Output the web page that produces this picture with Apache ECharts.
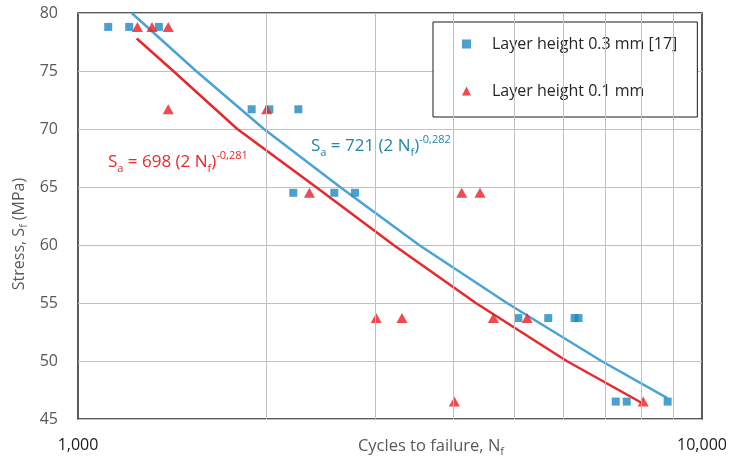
<!DOCTYPE html>
<html><head><meta charset="utf-8">
<script src="https://cdn.jsdelivr.net/npm/echarts@6/dist/echarts.min.js"></script>
<style>html,body{margin:0;padding:0;background:#fff}#c{width:738px;height:462px}</style>
</head><body><div id="c"></div>
<script>
// ---- data ----
const blueName = 'Layer height 0.3 mm [17]';
const redName = 'Layer height 0.1 mm';
const blueCycles = [1118, 1208, 1348, 1898, 2026, 2255, 2213, 2575, 2779, 5077, 5670, 6250, 6340, 7274, 7575, 8810];
const blueStress = [78.8, 78.8, 78.8, 71.7, 71.7, 71.7, 64.5, 64.5, 64.5, 53.7, 53.7, 53.7, 53.7, 46.5, 46.5, 46.5];
const redCycles = [1245, 1314, 1395, 1395, 2006, 2349, 4120, 4408, 3005, 3305, 4630, 5245, 4010, 8050];
const redStress = [78.8, 78.8, 78.8, 71.7, 71.7, 64.5, 64.5, 64.5, 53.7, 53.7, 53.7, 53.7, 46.5, 46.5];
// fitted curves as traced on the picture
const blueFitCycles = [1219, 1546, 1986, 2630, 3520, 4868, 6900, 8800];
const blueFitStress = [80, 75, 70, 65, 60, 55, 50, 46.8];
const redFitCycles = [1242, 1421, 1800, 2406, 3204, 4340, 6070, 8000];
const redFitStress = [77.8, 75, 70, 65, 60, 55, 50, 46.4];
// tick values
const xMin = 1000, xMax = 10000;
const gridCycles = [2000, 3000, 4000, 5000, 6000, 7000, 8000, 9000];
const yMin = 45, yMax = 80, yStep = 5;

const FONT = '"Open Sans", "Noto Sans", sans-serif';
const BLUE = '#1f88c2', BLUE_LINE = '#4aa3d2', BLUE_TXT = '#2583aa';
const RED = '#ee1c24', RED_LINE = '#e8282c';

const zip = (a, b) => a.map((v, i) => [v, b[i]]);

const chart = echarts.init(document.getElementById('c'));
const richEq = (fill) => ({
  m: {fontSize: 17, fontFamily: FONT, fill: fill, lineHeight: 24},
  s: {fontSize: 11, fontFamily: FONT, fill: fill, lineHeight: 14, verticalAlign: 'bottom'},
  p: {fontSize: 11, fontFamily: FONT, fill: fill, lineHeight: 14, verticalAlign: 'top'}
});
const richAx = {
  m: {fontSize: 16.5, fontFamily: FONT, fill: '#595959', lineHeight: 22},
  s: {fontSize: 11, fontFamily: FONT, fill: '#595959', lineHeight: 13, verticalAlign: 'bottom'}
};
const richAy = {
  m: {fontSize: 16, fontFamily: FONT, fill: '#595959', lineHeight: 22},
  s: {fontSize: 10.5, fontFamily: FONT, fill: '#595959', lineHeight: 13, verticalAlign: 'bottom'}
};

chart.setOption({
  animation: false,
  grid: {left: 78, right: 36, top: 13, bottom: 43, show: true, borderColor: '#262626', borderWidth: 1.5},
  xAxis: {
    type: 'log', logBase: 10, min: xMin, max: xMax,
    axisLine: {show: false}, axisTick: {show: false}, splitLine: {show: false},
    axisLabel: {formatter: v => Number(v).toLocaleString('en-US'), fontSize: 16, color: '#1a1a1a', margin: 18, fontFamily: FONT}
  },
  yAxis: {
    type: 'value', min: yMin, max: yMax, interval: yStep,
    axisLine: {show: false}, axisTick: {show: false},
    splitLine: {lineStyle: {color: '#c0c0c0', width: 1}},
    axisLabel: {fontSize: 16, color: '#595959', margin: 20, fontFamily: FONT}
  },
  legend: {
    left: 433, top: 22, orient: 'vertical', itemWidth: 9, itemHeight: 9, itemGap: 31,
    padding: [14, 20, 18, 29], borderColor: '#1a1a1a', borderWidth: 1, backgroundColor: '#fff',
    textStyle: {fontSize: 16, color: '#262626', fontFamily: FONT, padding: [0, 0, 0, 16]},
    data: [{name: blueName, icon: 'rect'}, {name: redName, icon: 'triangle'}]
  },
  graphic: [
    {type: 'text', x: 108, y: 162, z: 10, style: {text: '{m|S}{s|a}{m| = 698 (2 N}{s|f}{m|)}{p|-0,281}', rich: richEq(RED_LINE), verticalAlign: 'middle', align: 'left'}},
    {type: 'text', x: 311, y: 146, z: 10, style: {text: '{m|S}{s|a}{m| = 721 (2 N}{s|f}{m|)}{p|-0,282}', rich: richEq(BLUE_TXT), verticalAlign: 'middle', align: 'left'}},
    {type: 'text', x: 431, y: 446, z: 10, style: {text: '{m|Cycles to failure, N}{s|f}', rich: richAx, verticalAlign: 'middle', align: 'center'}},
    {type: 'text', x: 19, y: 234, rotation: Math.PI / 2, z: 10, style: {text: '{m|Stress, S}{s|f}{m| (MPa)}', rich: richAy, verticalAlign: 'middle', align: 'center'}}
  ],
  series: [
    {
      type: 'scatter', name: 'grid', data: [], z: 0, silent: true,
      markLine: {silent: true, symbol: 'none', label: {show: false}, animation: false,
        lineStyle: {color: '#c0c0c0', width: 1, type: 'solid'},
        data: gridCycles.map(v => ({xAxis: v}))}
    },
    {type: 'line', name: 'blueFit', data: zip(blueFitCycles, blueFitStress), symbol: 'none', smooth: false, lineStyle: {color: BLUE_LINE, width: 2.5, join: 'round'}, z: 2, silent: true},
    {type: 'line', name: 'redFit', data: zip(redFitCycles, redFitStress), symbol: 'none', smooth: false, lineStyle: {color: RED_LINE, width: 2.5, join: 'round'}, z: 2, silent: true},
    {type: 'scatter', name: blueName, data: zip(blueCycles, blueStress), symbol: 'rect', symbolSize: 8, itemStyle: {color: BLUE}, z: 3},
    {type: 'scatter', name: redName, data: zip(redCycles, redStress), symbol: 'triangle', symbolSize: [11, 10], itemStyle: {color: RED}, z: 4}
  ]
});
</script></body></html>
